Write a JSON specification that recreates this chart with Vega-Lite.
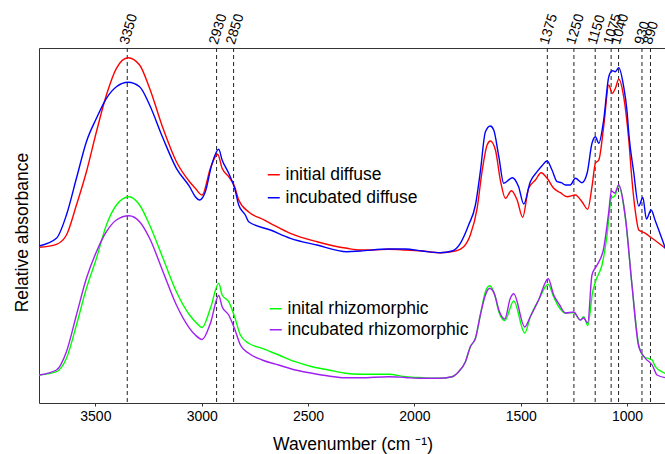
{
  "$schema": "https://vega.github.io/schema/vega-lite/v6.json",
  "autosize": {"type": "none"},
  "width": 627,
  "height": 355,
  "padding": {"left": 39, "top": 48, "right": 0, "bottom": 51},
  "background": "white",
  "config": {
    "view": {"stroke": "#333333", "strokeWidth": 1},
    "font": "Liberation Sans"
  },
  "datasets": {
    "diffuse": [
      {"wn":3765,"a":155.7,"sample":"initial diffuse"},{"wn":3683,"a":158.7,"sample":"initial diffuse"},{"wn":3636,"a":168,"sample":"initial diffuse"},{"wn":3589,"a":198,"sample":"initial diffuse"},{"wn":3542,"a":231.3,"sample":"initial diffuse"},{"wn":3495,"a":271.3,"sample":"initial diffuse"},{"wn":3448,"a":308,"sample":"initial diffuse"},{"wn":3401,"a":334.7,"sample":"initial diffuse"},{"wn":3346,"a":345.3,"sample":"initial diffuse"},{"wn":3292,"a":338,"sample":"initial diffuse"},{"wn":3245,"a":314.7,"sample":"initial diffuse"},{"wn":3182,"a":274.7,"sample":"initial diffuse"},{"wn":3119,"a":241.3,"sample":"initial diffuse"},{"wn":3057,"a":221.3,"sample":"initial diffuse"},{"wn":3030,"a":214.7,"sample":"initial diffuse"},{"wn":2998,"a":208,"sample":"initial diffuse"},{"wn":2959,"a":234.7,"sample":"initial diffuse"},{"wn":2925,"a":248.7,"sample":"initial diffuse"},{"wn":2904,"a":234.7,"sample":"initial diffuse"},{"wn":2873,"a":226.3,"sample":"initial diffuse"},{"wn":2845,"a":216.3,"sample":"initial diffuse"},{"wn":2826,"a":203,"sample":"initial diffuse"},{"wn":2779,"a":191,"sample":"initial diffuse"},{"wn":2716,"a":184,"sample":"initial diffuse"},{"wn":2677,"a":179.7,"sample":"initial diffuse"},{"wn":2583,"a":169.7,"sample":"initial diffuse"},{"wn":2458,"a":161.3,"sample":"initial diffuse"},{"wn":2317,"a":154.7,"sample":"initial diffuse"},{"wn":2254,"a":153,"sample":"initial diffuse"},{"wn":2199,"a":153,"sample":"initial diffuse"},{"wn":2121,"a":153.7,"sample":"initial diffuse"},{"wn":2042,"a":153,"sample":"initial diffuse"},{"wn":1964,"a":152,"sample":"initial diffuse"},{"wn":1878,"a":150.3,"sample":"initial diffuse"},{"wn":1807,"a":152,"sample":"initial diffuse"},{"wn":1768,"a":156.3,"sample":"initial diffuse"},{"wn":1737,"a":168,"sample":"initial diffuse"},{"wn":1705,"a":194.7,"sample":"initial diffuse"},{"wn":1682,"a":231.3,"sample":"initial diffuse"},{"wn":1658,"a":258,"sample":"initial diffuse"},{"wn":1643,"a":262,"sample":"initial diffuse"},{"wn":1619,"a":253,"sample":"initial diffuse"},{"wn":1596,"a":223,"sample":"initial diffuse"},{"wn":1572,"a":204.7,"sample":"initial diffuse"},{"wn":1544,"a":212.3,"sample":"initial diffuse"},{"wn":1517,"a":203,"sample":"initial diffuse"},{"wn":1491,"a":185.7,"sample":"initial diffuse"},{"wn":1463,"a":214.7,"sample":"initial diffuse"},{"wn":1431,"a":223,"sample":"initial diffuse"},{"wn":1404,"a":230.3,"sample":"initial diffuse"},{"wn":1376,"a":224.7,"sample":"initial diffuse"},{"wn":1345,"a":214.7,"sample":"initial diffuse"},{"wn":1314,"a":210.3,"sample":"initial diffuse"},{"wn":1282,"a":206.3,"sample":"initial diffuse"},{"wn":1243,"a":208,"sample":"initial diffuse"},{"wn":1212,"a":201.3,"sample":"initial diffuse"},{"wn":1185,"a":193.7,"sample":"initial diffuse"},{"wn":1165,"a":216.3,"sample":"initial diffuse"},{"wn":1149,"a":239.7,"sample":"initial diffuse"},{"wn":1133,"a":243,"sample":"initial diffuse"},{"wn":1110,"a":276.3,"sample":"initial diffuse"},{"wn":1086,"a":318,"sample":"initial diffuse"},{"wn":1070,"a":309.7,"sample":"initial diffuse"},{"wn":1055,"a":314.7,"sample":"initial diffuse"},{"wn":1039,"a":323.7,"sample":"initial diffuse"},{"wn":1016,"a":306.3,"sample":"initial diffuse"},{"wn":992,"a":263,"sample":"initial diffuse"},{"wn":977,"a":223,"sample":"initial diffuse"},{"wn":961,"a":191.3,"sample":"initial diffuse"},{"wn":945,"a":173,"sample":"initial diffuse"},{"wn":914,"a":169.7,"sample":"initial diffuse"},{"wn":882,"a":164.7,"sample":"initial diffuse"},{"wn":820,"a":154.7,"sample":"initial diffuse"},
      {"wn":3765,"a":157,"sample":"incubated diffuse"},{"wn":3683,"a":164.7,"sample":"incubated diffuse"},{"wn":3636,"a":188,"sample":"incubated diffuse"},{"wn":3589,"a":224.7,"sample":"incubated diffuse"},{"wn":3542,"a":261.3,"sample":"incubated diffuse"},{"wn":3495,"a":284.7,"sample":"incubated diffuse"},{"wn":3448,"a":304.7,"sample":"incubated diffuse"},{"wn":3401,"a":316.3,"sample":"incubated diffuse"},{"wn":3346,"a":320.7,"sample":"incubated diffuse"},{"wn":3292,"a":316.3,"sample":"incubated diffuse"},{"wn":3245,"a":298,"sample":"incubated diffuse"},{"wn":3182,"a":264.7,"sample":"incubated diffuse"},{"wn":3119,"a":234.7,"sample":"incubated diffuse"},{"wn":3057,"a":216.3,"sample":"incubated diffuse"},{"wn":3030,"a":206.3,"sample":"incubated diffuse"},{"wn":3010,"a":203,"sample":"incubated diffuse"},{"wn":2983,"a":211.3,"sample":"incubated diffuse"},{"wn":2951,"a":239.7,"sample":"incubated diffuse"},{"wn":2920,"a":253.7,"sample":"incubated diffuse"},{"wn":2904,"a":243,"sample":"incubated diffuse"},{"wn":2873,"a":229.7,"sample":"incubated diffuse"},{"wn":2845,"a":214.7,"sample":"incubated diffuse"},{"wn":2826,"a":198,"sample":"incubated diffuse"},{"wn":2795,"a":188,"sample":"incubated diffuse"},{"wn":2779,"a":181.3,"sample":"incubated diffuse"},{"wn":2677,"a":173,"sample":"incubated diffuse"},{"wn":2583,"a":164.7,"sample":"incubated diffuse"},{"wn":2458,"a":158,"sample":"incubated diffuse"},{"wn":2317,"a":151.3,"sample":"incubated diffuse"},{"wn":2254,"a":152,"sample":"incubated diffuse"},{"wn":2121,"a":154,"sample":"incubated diffuse"},{"wn":2042,"a":154,"sample":"incubated diffuse"},{"wn":1964,"a":152,"sample":"incubated diffuse"},{"wn":1878,"a":150.3,"sample":"incubated diffuse"},{"wn":1823,"a":152,"sample":"incubated diffuse"},{"wn":1784,"a":159.7,"sample":"incubated diffuse"},{"wn":1745,"a":178,"sample":"incubated diffuse"},{"wn":1713,"a":198,"sample":"incubated diffuse"},{"wn":1690,"a":231.3,"sample":"incubated diffuse"},{"wn":1666,"a":271.3,"sample":"incubated diffuse"},{"wn":1643,"a":277,"sample":"incubated diffuse"},{"wn":1627,"a":273,"sample":"incubated diffuse"},{"wn":1603,"a":246.3,"sample":"incubated diffuse"},{"wn":1580,"a":219.7,"sample":"incubated diffuse"},{"wn":1540,"a":225.3,"sample":"incubated diffuse"},{"wn":1510,"a":216.3,"sample":"incubated diffuse"},{"wn":1486,"a":199,"sample":"incubated diffuse"},{"wn":1455,"a":221.3,"sample":"incubated diffuse"},{"wn":1423,"a":231.3,"sample":"incubated diffuse"},{"wn":1400,"a":237.3,"sample":"incubated diffuse"},{"wn":1376,"a":242,"sample":"incubated diffuse"},{"wn":1353,"a":233,"sample":"incubated diffuse"},{"wn":1329,"a":221.3,"sample":"incubated diffuse"},{"wn":1309,"a":220.3,"sample":"incubated diffuse"},{"wn":1290,"a":218,"sample":"incubated diffuse"},{"wn":1267,"a":218,"sample":"incubated diffuse"},{"wn":1243,"a":224.7,"sample":"incubated diffuse"},{"wn":1212,"a":220.3,"sample":"incubated diffuse"},{"wn":1188,"a":229.7,"sample":"incubated diffuse"},{"wn":1165,"a":259.7,"sample":"incubated diffuse"},{"wn":1149,"a":266.3,"sample":"incubated diffuse"},{"wn":1133,"a":259.7,"sample":"incubated diffuse"},{"wn":1110,"a":283,"sample":"incubated diffuse"},{"wn":1086,"a":326.3,"sample":"incubated diffuse"},{"wn":1070,"a":332.3,"sample":"incubated diffuse"},{"wn":1055,"a":331.3,"sample":"incubated diffuse"},{"wn":1039,"a":335.3,"sample":"incubated diffuse"},{"wn":1016,"a":316.3,"sample":"incubated diffuse"},{"wn":1000,"a":291.3,"sample":"incubated diffuse"},{"wn":992,"a":269.7,"sample":"incubated diffuse"},{"wn":969,"a":231,"sample":"incubated diffuse"},{"wn":945,"a":197,"sample":"incubated diffuse"},{"wn":926,"a":205.5,"sample":"incubated diffuse"},{"wn":909,"a":184,"sample":"incubated diffuse"},{"wn":887,"a":193,"sample":"incubated diffuse"},{"wn":867,"a":182,"sample":"incubated diffuse"},{"wn":820,"a":154.7,"sample":"incubated diffuse"}
    ],
    "rhizo": [
      {"wn":3765,"a":28,"sample":"inital rhizomorphic"},{"wn":3683,"a":31.3,"sample":"inital rhizomorphic"},{"wn":3636,"a":44.7,"sample":"inital rhizomorphic"},{"wn":3589,"a":78,"sample":"inital rhizomorphic"},{"wn":3542,"a":114.7,"sample":"inital rhizomorphic"},{"wn":3495,"a":144.7,"sample":"inital rhizomorphic"},{"wn":3448,"a":178,"sample":"inital rhizomorphic"},{"wn":3401,"a":198,"sample":"inital rhizomorphic"},{"wn":3342,"a":206.3,"sample":"inital rhizomorphic"},{"wn":3292,"a":198,"sample":"inital rhizomorphic"},{"wn":3245,"a":178,"sample":"inital rhizomorphic"},{"wn":3182,"a":144.7,"sample":"inital rhizomorphic"},{"wn":3119,"a":111.3,"sample":"inital rhizomorphic"},{"wn":3057,"a":88,"sample":"inital rhizomorphic"},{"wn":3030,"a":81.3,"sample":"inital rhizomorphic"},{"wn":2998,"a":75.5,"sample":"inital rhizomorphic"},{"wn":2959,"a":94.7,"sample":"inital rhizomorphic"},{"wn":2920,"a":119.7,"sample":"inital rhizomorphic"},{"wn":2904,"a":108,"sample":"inital rhizomorphic"},{"wn":2873,"a":101.3,"sample":"inital rhizomorphic"},{"wn":2845,"a":86,"sample":"inital rhizomorphic"},{"wn":2818,"a":68,"sample":"inital rhizomorphic"},{"wn":2779,"a":59.7,"sample":"inital rhizomorphic"},{"wn":2716,"a":54.7,"sample":"inital rhizomorphic"},{"wn":2638,"a":48,"sample":"inital rhizomorphic"},{"wn":2560,"a":41.3,"sample":"inital rhizomorphic"},{"wn":2481,"a":36.3,"sample":"inital rhizomorphic"},{"wn":2403,"a":33,"sample":"inital rhizomorphic"},{"wn":2325,"a":29.7,"sample":"inital rhizomorphic"},{"wn":2254,"a":28.7,"sample":"inital rhizomorphic"},{"wn":2121,"a":28.7,"sample":"inital rhizomorphic"},{"wn":2042,"a":26.3,"sample":"inital rhizomorphic"},{"wn":1964,"a":25.3,"sample":"inital rhizomorphic"},{"wn":1886,"a":24.7,"sample":"inital rhizomorphic"},{"wn":1823,"a":26.3,"sample":"inital rhizomorphic"},{"wn":1792,"a":31.3,"sample":"inital rhizomorphic"},{"wn":1760,"a":41.3,"sample":"inital rhizomorphic"},{"wn":1737,"a":56.3,"sample":"inital rhizomorphic"},{"wn":1713,"a":64.7,"sample":"inital rhizomorphic"},{"wn":1690,"a":88,"sample":"inital rhizomorphic"},{"wn":1666,"a":111.3,"sample":"inital rhizomorphic"},{"wn":1646,"a":117.3,"sample":"inital rhizomorphic"},{"wn":1622,"a":108,"sample":"inital rhizomorphic"},{"wn":1603,"a":91.3,"sample":"inital rhizomorphic"},{"wn":1575,"a":82.5,"sample":"inital rhizomorphic"},{"wn":1533,"a":102,"sample":"inital rhizomorphic"},{"wn":1481,"a":70,"sample":"inital rhizomorphic"},{"wn":1455,"a":86.3,"sample":"inital rhizomorphic"},{"wn":1416,"a":103,"sample":"inital rhizomorphic"},{"wn":1371,"a":118.8,"sample":"inital rhizomorphic"},{"wn":1345,"a":106,"sample":"inital rhizomorphic"},{"wn":1322,"a":96.5,"sample":"inital rhizomorphic"},{"wn":1290,"a":90,"sample":"inital rhizomorphic"},{"wn":1251,"a":90.3,"sample":"inital rhizomorphic"},{"wn":1220,"a":83,"sample":"inital rhizomorphic"},{"wn":1204,"a":86.3,"sample":"inital rhizomorphic"},{"wn":1185,"a":77.5,"sample":"inital rhizomorphic"},{"wn":1162,"a":111,"sample":"inital rhizomorphic"},{"wn":1146,"a":123,"sample":"inital rhizomorphic"},{"wn":1118,"a":138,"sample":"inital rhizomorphic"},{"wn":1094,"a":168,"sample":"inital rhizomorphic"},{"wn":1074,"a":205,"sample":"inital rhizomorphic"},{"wn":1058,"a":207,"sample":"inital rhizomorphic"},{"wn":1039,"a":217,"sample":"inital rhizomorphic"},{"wn":1008,"a":184.7,"sample":"inital rhizomorphic"},{"wn":977,"a":118,"sample":"inital rhizomorphic"},{"wn":945,"a":58,"sample":"inital rhizomorphic"},{"wn":921,"a":46.3,"sample":"inital rhizomorphic"},{"wn":882,"a":43,"sample":"inital rhizomorphic"},{"wn":867,"a":36.3,"sample":"inital rhizomorphic"},{"wn":820,"a":29.7,"sample":"inital rhizomorphic"},
      {"wn":3765,"a":28,"sample":"incubated rhizomorphic"},{"wn":3683,"a":33,"sample":"incubated rhizomorphic"},{"wn":3636,"a":51.3,"sample":"incubated rhizomorphic"},{"wn":3589,"a":88,"sample":"incubated rhizomorphic"},{"wn":3542,"a":124.7,"sample":"incubated rhizomorphic"},{"wn":3495,"a":151.3,"sample":"incubated rhizomorphic"},{"wn":3448,"a":171.3,"sample":"incubated rhizomorphic"},{"wn":3401,"a":183,"sample":"incubated rhizomorphic"},{"wn":3342,"a":187.3,"sample":"incubated rhizomorphic"},{"wn":3292,"a":181.3,"sample":"incubated rhizomorphic"},{"wn":3245,"a":164.7,"sample":"incubated rhizomorphic"},{"wn":3182,"a":131.3,"sample":"incubated rhizomorphic"},{"wn":3119,"a":98,"sample":"incubated rhizomorphic"},{"wn":3057,"a":74.7,"sample":"incubated rhizomorphic"},{"wn":3030,"a":68,"sample":"incubated rhizomorphic"},{"wn":2998,"a":63.5,"sample":"incubated rhizomorphic"},{"wn":2959,"a":79.7,"sample":"incubated rhizomorphic"},{"wn":2920,"a":107.5,"sample":"incubated rhizomorphic"},{"wn":2904,"a":96.3,"sample":"incubated rhizomorphic"},{"wn":2873,"a":88,"sample":"incubated rhizomorphic"},{"wn":2845,"a":74,"sample":"incubated rhizomorphic"},{"wn":2818,"a":58,"sample":"incubated rhizomorphic"},{"wn":2779,"a":49.7,"sample":"incubated rhizomorphic"},{"wn":2716,"a":43,"sample":"incubated rhizomorphic"},{"wn":2638,"a":38,"sample":"incubated rhizomorphic"},{"wn":2560,"a":33,"sample":"incubated rhizomorphic"},{"wn":2481,"a":29.7,"sample":"incubated rhizomorphic"},{"wn":2403,"a":27,"sample":"incubated rhizomorphic"},{"wn":2325,"a":25.3,"sample":"incubated rhizomorphic"},{"wn":2254,"a":25.3,"sample":"incubated rhizomorphic"},{"wn":2121,"a":26.3,"sample":"incubated rhizomorphic"},{"wn":2042,"a":25.5,"sample":"incubated rhizomorphic"},{"wn":1964,"a":24.7,"sample":"incubated rhizomorphic"},{"wn":1886,"a":24.7,"sample":"incubated rhizomorphic"},{"wn":1823,"a":26.3,"sample":"incubated rhizomorphic"},{"wn":1792,"a":31.3,"sample":"incubated rhizomorphic"},{"wn":1760,"a":41.3,"sample":"incubated rhizomorphic"},{"wn":1737,"a":56.3,"sample":"incubated rhizomorphic"},{"wn":1713,"a":64.7,"sample":"incubated rhizomorphic"},{"wn":1690,"a":88,"sample":"incubated rhizomorphic"},{"wn":1666,"a":108,"sample":"incubated rhizomorphic"},{"wn":1646,"a":114.7,"sample":"incubated rhizomorphic"},{"wn":1622,"a":108,"sample":"incubated rhizomorphic"},{"wn":1603,"a":93,"sample":"incubated rhizomorphic"},{"wn":1575,"a":84,"sample":"incubated rhizomorphic"},{"wn":1549,"a":104.7,"sample":"incubated rhizomorphic"},{"wn":1533,"a":109.3,"sample":"incubated rhizomorphic"},{"wn":1481,"a":76,"sample":"incubated rhizomorphic"},{"wn":1455,"a":86.3,"sample":"incubated rhizomorphic"},{"wn":1416,"a":103,"sample":"incubated rhizomorphic"},{"wn":1371,"a":124.3,"sample":"incubated rhizomorphic"},{"wn":1345,"a":108,"sample":"incubated rhizomorphic"},{"wn":1317,"a":98,"sample":"incubated rhizomorphic"},{"wn":1290,"a":90,"sample":"incubated rhizomorphic"},{"wn":1251,"a":91,"sample":"incubated rhizomorphic"},{"wn":1220,"a":83,"sample":"incubated rhizomorphic"},{"wn":1204,"a":85,"sample":"incubated rhizomorphic"},{"wn":1185,"a":80,"sample":"incubated rhizomorphic"},{"wn":1165,"a":128,"sample":"incubated rhizomorphic"},{"wn":1141,"a":138,"sample":"incubated rhizomorphic"},{"wn":1110,"a":154.7,"sample":"incubated rhizomorphic"},{"wn":1086,"a":191.3,"sample":"incubated rhizomorphic"},{"wn":1074,"a":212,"sample":"incubated rhizomorphic"},{"wn":1058,"a":210,"sample":"incubated rhizomorphic"},{"wn":1039,"a":218,"sample":"incubated rhizomorphic"},{"wn":1008,"a":186,"sample":"incubated rhizomorphic"},{"wn":977,"a":118,"sample":"incubated rhizomorphic"},{"wn":945,"a":56.3,"sample":"incubated rhizomorphic"},{"wn":914,"a":44.7,"sample":"incubated rhizomorphic"},{"wn":882,"a":38,"sample":"incubated rhizomorphic"},{"wn":859,"a":28,"sample":"incubated rhizomorphic"},{"wn":820,"a":25.3,"sample":"incubated rhizomorphic"}
    ],
    "peaks": [
      {"wn":3350,"label":"3350"},{"wn":2930,"label":"2930"},{"wn":2850,"label":"2850"},{"wn":1375,"label":"1375"},{"wn":1250,"label":"1250"},{"wn":1150,"label":"1150"},{"wn":1075,"label":"1075"},{"wn":1040,"label":"1040"},{"wn":930,"label":"930"},{"wn":890,"label":"890"}
    ]
  },
  "layer": [
    {
      "data": {"name": "peaks"},
      "mark": {"type": "rule", "strokeDash": [4, 3], "color": "#222222", "strokeWidth": 1},
      "encoding": {
        "x": {"field": "wn", "type": "quantitative",
          "scale": {"domain": [817, 3765], "reverse": true, "zero": false, "nice": false},
          "axis": {"values": [3500, 3000, 2500, 2000, 1500, 1000], "format": "d", "title": "Wavenumber (cm ⁻¹)", "domain": false, "grid": false,
            "tickSize": 3, "tickColor": "#333333", "labelFontSize": 14, "labelColor": "black", "labelPadding": 3, "labelFont": "Liberation Sans",
            "titleFontSize": 17.5, "titleFontWeight": "normal", "titleColor": "black", "titlePadding": 12, "titleFont": "Liberation Sans"}}
      }
    },
    {
      "data": {"name": "diffuse"},
      "mark": {"type": "line", "strokeWidth": 1.4, "clip": true, "interpolate": "monotone"},
      "encoding": {
        "x": {"field": "wn", "type": "quantitative"},
        "y": {"field": "a", "type": "quantitative",
          "scale": {"domain": [0, 355], "zero": false, "nice": false},
          "axis": {"title": "Relative absorbance", "labels": false, "ticks": false, "domain": false, "grid": false,
            "titleFontSize": 17.5, "titleFontWeight": "normal", "titleColor": "black", "titlePadding": 8, "titleFont": "Liberation Sans", "titleY": 184}},
        "color": {"field": "sample", "type": "nominal",
          "scale": {"domain": ["initial diffuse", "incubated diffuse"], "range": ["#ff0000", "#0000ff"]},
          "legend": {"title": null, "orient": "none", "legendX": 226, "legendY": 118, "direction": "vertical",
            "symbolType": "stroke", "symbolSize": 144, "symbolStrokeWidth": 1.5, "labelFontSize": 17.5, "labelFont": "Liberation Sans",
            "labelColor": "black", "labelLimit": 300, "rowPadding": 4, "padding": 0, "labelOffset": 3}}
      }
    },
    {
      "data": {"name": "rhizo"},
      "mark": {"type": "line", "strokeWidth": 1.4, "clip": true, "interpolate": "monotone"},
      "encoding": {
        "x": {"field": "wn", "type": "quantitative"},
        "y": {"field": "a", "type": "quantitative"},
        "color": {"field": "sample", "type": "nominal",
          "scale": {"domain": ["inital rhizomorphic", "incubated rhizomorphic"], "range": ["#00ff00", "#a020f0"]},
          "legend": {"title": null, "orient": "none", "legendX": 228, "legendY": 252, "direction": "vertical",
            "symbolType": "stroke", "symbolSize": 144, "symbolStrokeWidth": 1.5, "labelFontSize": 17.5, "labelFont": "Liberation Sans",
            "labelColor": "black", "labelLimit": 300, "rowPadding": 2, "padding": 0, "labelOffset": 3}}
      }
    },
    {
      "data": {"name": "peaks"},
      "mark": {"type": "text", "angle": 287, "align": "left", "baseline": "middle", "fontSize": 14, "font": "Liberation Sans", "color": "black", "dy": -3},
      "encoding": {
        "x": {"field": "wn", "type": "quantitative"},
        "y": {"datum": 358},
        "text": {"field": "label"}
      }
    }
  ],
  "resolve": {"scale": {"color": "independent"}}
}
